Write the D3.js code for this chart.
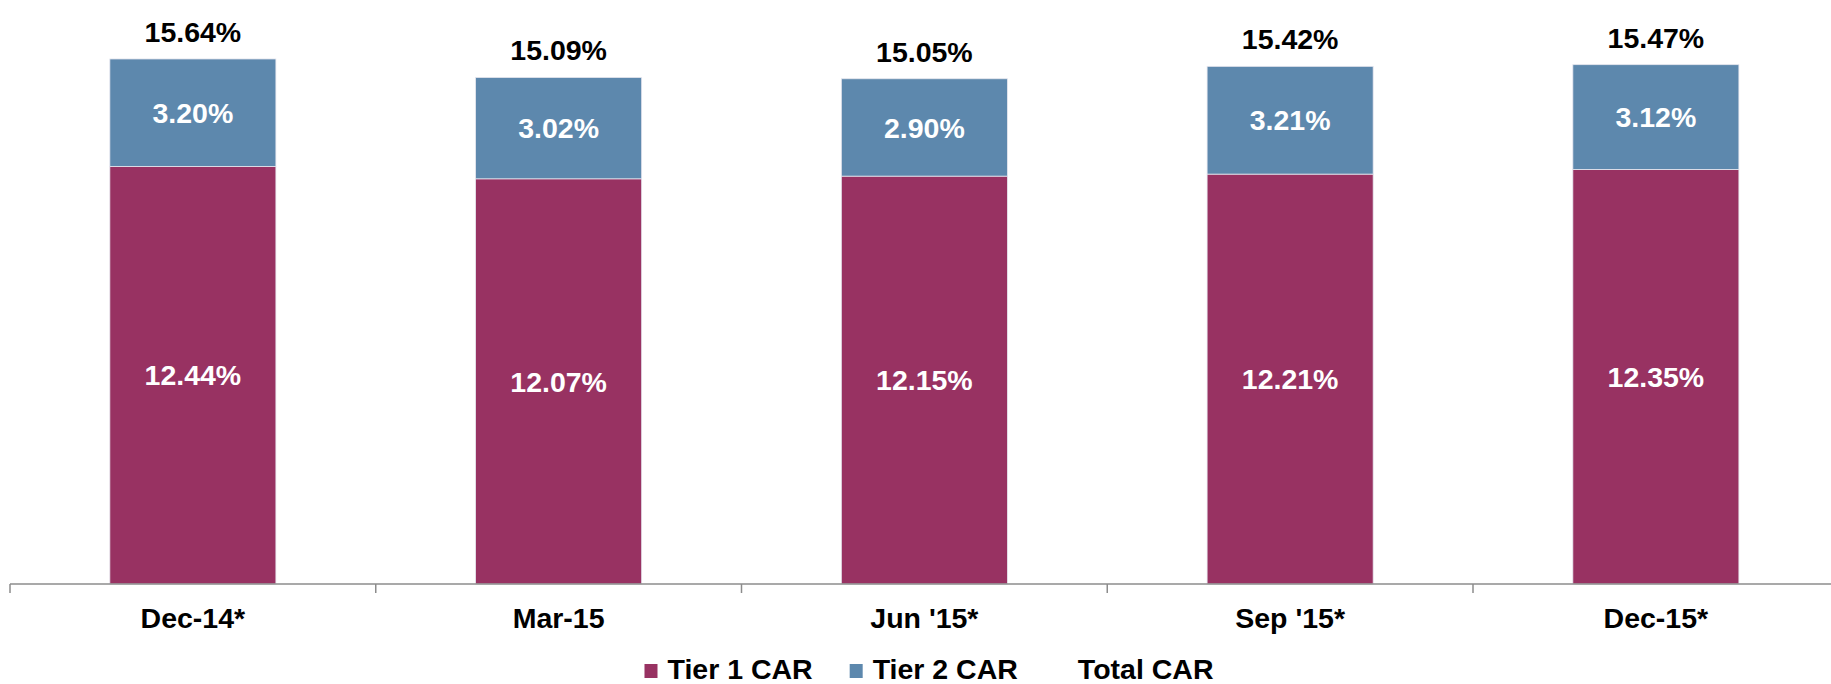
<!DOCTYPE html>
<html>
<head>
<meta charset="utf-8">
<script src="https://cdn.jsdelivr.net/npm/d3@7"></script>
<style>
  body { margin: 0; background: #fff; }
  text { font-family: "Liberation Sans", Arial, sans-serif; font-weight: bold; }
</style>
</head>
<body>
<script>
// chart data
let quarters = ["Dec-14*", "Mar-15", "Jun '15*", "Sep '15*", "Dec-15*"];
let tier1 = [12.44, 12.07, 12.15, 12.21, 12.35];
let tier2 = [3.20, 3.02, 2.90, 3.21, 3.12];
let totalCar = [15.64, 15.09, 15.05, 15.42, 15.47];
let seriesNames = ["Tier 1 CAR", "Tier 2 CAR", "Total CAR"];
let seriesColors = ["#983262", "#5d88ad", "none"];

let width = 1831;
let height = 684;
let axisY = 584;
let axisLeft = 10;
let bandWidth = 365.75;

let svg = d3.select('body').append('svg').attr('width', width).attr('height', height);

let x = d3.scaleBand().domain(quarters).range([axisLeft, axisLeft + bandWidth * quarters.length]).paddingInner(0.546).paddingOuter(0.273);
let y = d3.scaleLinear().domain([0, 16]).range([axisY, axisY - 16 * 33.57]);

let rows = quarters.map(function(q, i) {
  return {quarter: q, t1: tier1[i], t2: tier2[i], total: totalCar[i]};
});

let stack = d3.stack().keys(["t1", "t2"])(rows);

let layers = svg.selectAll('.layer').data(stack).enter().append('g').attr('class', 'layer').attr('fill', function(d, i) {
  return seriesColors[i];
});

layers.selectAll('rect').data(function(d) { return d; }).enter().append('rect')
  .attr('x', function(d) { return x(d.data.quarter); })
  .attr('width', x.bandwidth())
  .attr('y', function(d) { return y(d[1]); })
  .attr('height', function(d) { return y(d[0]) - y(d[1]); })
  .attr('stroke', '#e6e6ee')
  .attr('stroke-width', 0.8);

// white labels inside the segments
layers.selectAll('.inner').data(function(d) { return d; }).enter().append('text').attr('class', 'inner')
  .attr('x', function(d) { return x(d.data.quarter) + x.bandwidth() / 2; })
  .attr('y', function(d) { return (y(d[0]) + y(d[1])) / 2; })
  .attr('dy', '0.36em')
  .attr('text-anchor', 'middle')
  .attr('fill', '#fff')
  .style('font-size', '28.5px')
  .text(function(d) { return (d[1] - d[0]).toFixed(2) + '%'; });

// total labels above the bars
svg.selectAll('.total').data(rows).enter().append('text').attr('class', 'total')
  .attr('x', function(d) { return x(d.quarter) + x.bandwidth() / 2; })
  .attr('y', function(d) { return y(d.total) - 17; })
  .attr('text-anchor', 'middle')
  .attr('fill', '#000')
  .style('font-size', '28.5px')
  .text(function(d) { return d.total.toFixed(2) + '%'; });

// category axis, ticks between the bands
let axis = svg.append('g').attr('class', 'axis');
axis.append('line').attr('x1', axisLeft).attr('x2', width).attr('y1', axisY).attr('y2', axisY).attr('stroke', '#8c8c8c').attr('stroke-width', 1.5);

let tickPos = d3.range(quarters.length + 1).map(function(i) { return axisLeft + i * bandWidth; });
axis.selectAll('.tick').data(tickPos).enter().append('line').attr('class', 'tick')
  .attr('x1', function(d) { return d; }).attr('x2', function(d) { return d; })
  .attr('y1', axisY).attr('y2', axisY + 9)
  .attr('stroke', '#8c8c8c').attr('stroke-width', 1.5);

axis.selectAll('.cat').data(quarters).enter().append('text').attr('class', 'cat')
  .attr('x', function(d) { return x(d) + x.bandwidth() / 2; })
  .attr('y', axisY + 44)
  .attr('text-anchor', 'middle')
  .attr('fill', '#000')
  .style('font-size', '28.5px')
  .text(function(d) { return d; });

// legend
let legend = svg.append('g').attr('class', 'legend');
let items = legend.selectAll('.item').data(seriesNames).enter().append('g').attr('class', 'item');

items.append('rect').attr('width', 13).attr('height', 14).attr('y', -15).attr('fill', function(d, i) { return seriesColors[i]; });
items.append('text').attr('x', 23).attr('fill', '#000').style('font-size', '28.5px').text(function(d) { return d; });

let offset = 0;
let offsets = [];
items.each(function() {
  offsets.push(offset);
  offset += 23 + d3.select(this).select('text').node().getComputedTextLength() + 37;
});
let legendWidth = offset - 37;
let legendStart = 929 - legendWidth / 2;
items.attr('transform', function(d, i) { return 'translate(' + (legendStart + offsets[i]) + ',679)'; });
</script>
</body>
</html>
